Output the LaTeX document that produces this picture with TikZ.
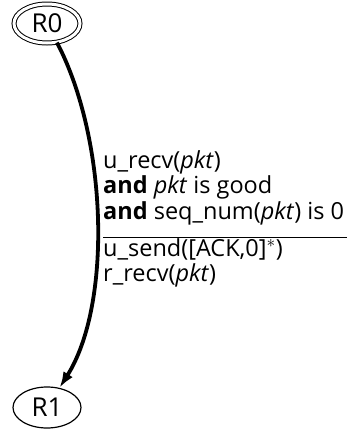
\documentclass[tikz,border=0pt]{standalone}
\usepackage{fontspec}
\setmainfont{Open Sans}
\usetikzlibrary{arrows.meta,positioning,shapes.geometric}

\begin{document}
\begin{tikzpicture}[
  x=1pt, y=-1pt,
  >={Latex[length=16pt,width=11pt]},
  state/.style={draw, ellipse, line width=1.2pt, inner sep=0pt, minimum width=68pt, minimum height=41pt, font=\fontsize{26}{28}\selectfont},
  accept/.style={state, double, double distance=3pt, line width=1pt, minimum width=66pt, minimum height=39pt},
  trans/.style={->, line width=3.8pt},
  guard/.style={align=left, inner sep=0pt, font=\fontsize{23.5}{25}\selectfont}
]
\useasboundingbox (0,0) rectangle (350,429);
\node[accept] (R0) at (47,23.5) {R0};
\node[state] (R1) at (47,407.5) {R1};

\draw[trans] (R0) .. controls (108,140) and (112,305) .. (R1);

\node[guard, anchor=north west] (lbl) at (103,150.5) {%
  \begin{tabular}{@{}l@{\hspace{3pt}}}
  u\_recv(\textit{pkt})\\
  \textbf{and} \textit{pkt} is good\\
  \textbf{and} seq\_num(\textit{pkt}) is 0\\[10pt]
  \noalign{\hrule height 1.2pt}
  \rule{0pt}{18.5pt}u\_send([ACK,0]$^{*}$)\\
  r\_recv(\textit{pkt})
  \end{tabular}};
\end{tikzpicture}
\end{document}
